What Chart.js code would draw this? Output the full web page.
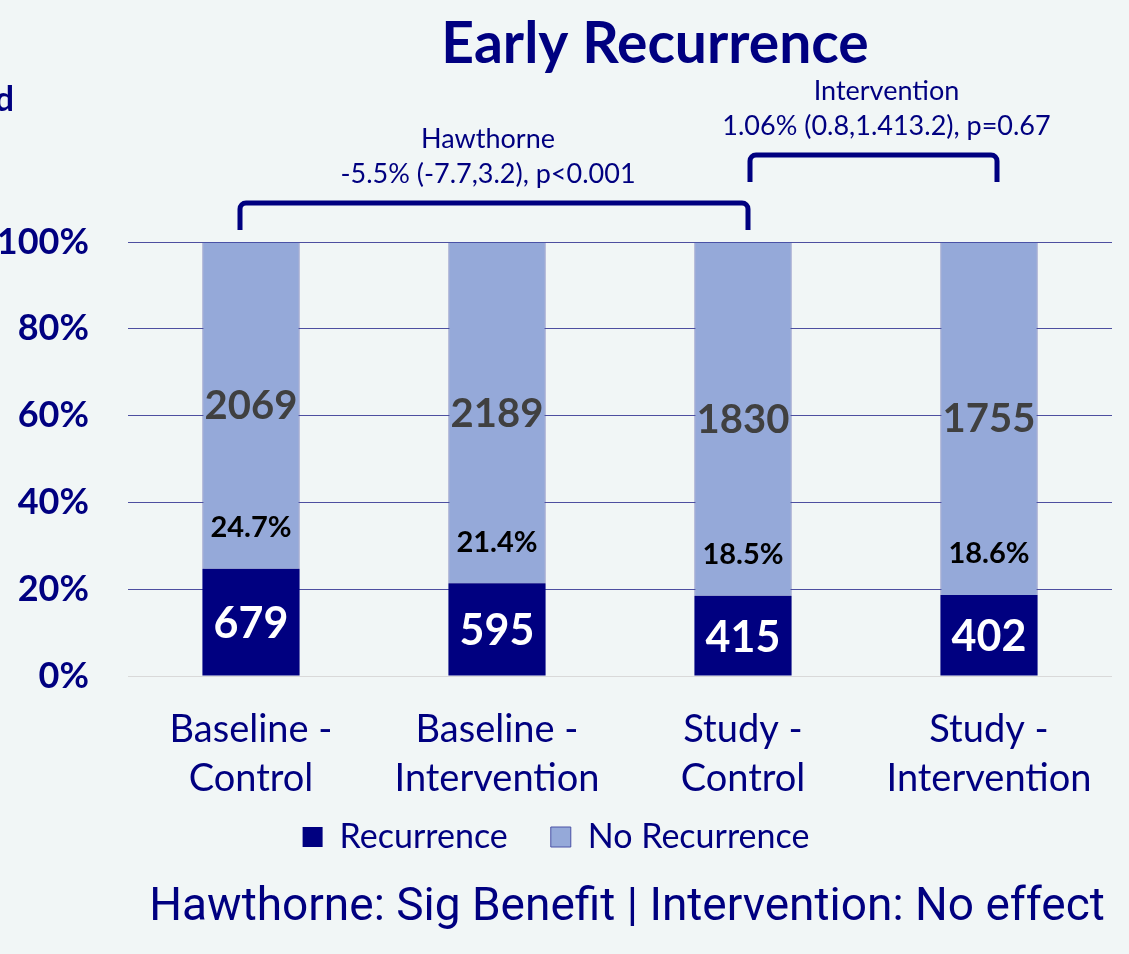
<!DOCTYPE html>
<html>
<head>
<meta charset="utf-8">
<title>Early Recurrence</title>
<script src="https://cdn.jsdelivr.net/npm/chart.js@4.4.0/dist/chart.umd.min.js"></script>
<style>
    html, body { margin: 0; padding: 0; background: #f1f6f6; overflow: hidden; }
    #wrap { width: 1129px; height: 954px; }
</style>
</head>
<body>
<div id="wrap"><canvas id="myChart" width="1129" height="954"></canvas></div>
<script>
    "use strict";

    // data
    const categories = [['Baseline -', 'Control'], ['Baseline -', 'Intervention'], ['Study -', 'Control'], ['Study -', 'Intervention']];
    const recurrence = [679, 595, 415, 402];
    const noRecurrence = [2069, 2189, 1830, 1755];
    const yTicks = [0, 20, 40, 60, 80, 100];
    const comparisons = [
        { from: 0, to: 2, name: 'Hawthorne', stats: '-5.5% (-7.7,3.2), p<0.001' },
        { from: 2, to: 3, name: 'Intervention', stats: '1.06% (0.8,1.413.2), p=0.67' }
    ];
    const chartTitle = 'Early Recurrence';
    const footer = 'Hawthorne: Sig Benefit | Intervention: No effect';

    // 100% stacked -> shares of each group
    const totals = recurrence.map((v, i) => v + noRecurrence[i]);
    const recurrenceShare = recurrence.map((v, i) => v / totals[i] * 100);
    const noRecurrenceShare = noRecurrence.map((v, i) => v / totals[i] * 100);

    const NAVY = '#000080';
    const LIGHT = '#95a9d9';

    // where the brackets sit (offsets from bar centers / chart top)
    const bracketStyle = [
        { dl: -11, dr: 5, rise: 39, textDx: -6 },
        { dl: 7, dr: 8, rise: 87, textDx: 13 }
    ];

    const slidePlugin = {
        id: 'slide',
        beforeDraw(chart) {
            const c = chart.ctx;
            c.save();
            c.fillStyle = '#f1f6f6';
            c.fillRect(0, 0, chart.width, chart.height);
            c.restore();
        },
        afterLayout(chart) {
            // pull the legend up under the two-line category labels
            chart.legend.top -= 29;
            chart.legend.bottom -= 29;
        },
        afterDatasetsDraw(chart) {
            const c = chart.ctx;
            const metaRec = chart.getDatasetMeta(0);
            const metaNo = chart.getDatasetMeta(1);
            c.save();
            c.textAlign = 'center';
            c.textBaseline = 'middle';
            metaRec.data.forEach((bar, i) => {
                c.fillStyle = '#ffffff';
                c.font = 'bold 43px Lato';
                c.fillText(recurrence[i], bar.x, (bar.y + bar.base) / 2 + 2);
                c.fillStyle = '#000000';
                c.font = 'bold 29px Lato';
                c.fillText(recurrenceShare[i].toFixed(1) + '%', bar.x, bar.y - 41);
            });
            metaNo.data.forEach((bar, i) => {
                c.fillStyle = '#404040';
                c.font = 'bold 40px Lato';
                c.fillText(noRecurrence[i], bar.x, (bar.y + bar.base) / 2 + 1);
            });
            c.restore();
        },
        afterDraw(chart) {
            const c = chart.ctx;
            const area = chart.chartArea;
            const x = chart.scales.x;
            c.save();
            c.fillStyle = NAVY;
            c.textBaseline = 'middle';

            // title
            c.textAlign = 'center';
            c.font = 'bold 57px Lato';
            c.fillText(chartTitle, 655, 45);

            // clipped word at the left edge of the slide
            c.textAlign = 'right';
            c.font = 'bold 34px Lato';
            c.fillText('d', 14, 100);

            // comparison brackets
            comparisons.forEach((cmp, k) => {
                const s = bracketStyle[k];
                const xl = x.getPixelForValue(cmp.from) + s.dl;
                const xr = x.getPixelForValue(cmp.to) + s.dr;
                const top = area.top - s.rise;
                const bottom = top + 27;
                const r = 6;
                c.strokeStyle = NAVY;
                c.lineWidth = 5;
                c.beginPath();
                c.moveTo(xl, bottom);
                c.arcTo(xl, top, xl + r, top, r);
                c.arcTo(xr, top, xr, top + r, r);
                c.lineTo(xr, bottom);
                c.stroke();

                const mid = (xl + xr) / 2 + s.textDx;
                c.textAlign = 'center';
                c.font = '27px Lato';
                c.fillText(cmp.name, mid, top - 64);
                c.fillText(cmp.stats, mid, top - 29);
            });

            // take-away line
            c.textAlign = 'center';
            c.font = '46px Roboto';
            c.fillText(footer, 627, 908);
            c.restore();
        }
    };

    let ctx = document.getElementById('myChart').getContext('2d');

    let chart = new Chart(ctx, {
        type: 'bar',
        data: {
            labels: categories,
            datasets: [
                {
                    label: 'Recurrence',
                    backgroundColor: NAVY,
                    borderColor: NAVY,
                    borderWidth: 0,
                    data: recurrenceShare
                },
                {
                    label: 'No Recurrence',
                    backgroundColor: LIGHT,
                    borderColor: '#4a52a6',
                    borderWidth: 1,
                    data: noRecurrenceShare
                }
            ]
        },
        options: {
            responsive: false,
            animation: false,
            devicePixelRatio: 1,
            barPercentage: 0.395,
            categoryPercentage: 1,
            layout: {
                padding: { top: 242, right: 17, bottom: 61, left: 0 }
            },
            plugins: {
                legend: {
                    position: 'bottom',
                    labels: {
                        color: NAVY,
                        font: { family: 'Lato', size: 34 },
                        boxWidth: 20,
                        boxHeight: 20,
                        padding: 43
                    }
                },
                tooltip: { enabled: false }
            },
            scales: {
                x: {
                    stacked: true,
                    grid: { display: false, drawTicks: false },
                    border: { display: false },
                    ticks: {
                        color: NAVY,
                        font: { family: 'Lato', size: 38, lineHeight: 1.29 },
                        padding: 29,
                        maxRotation: 0,
                        autoSkip: false
                    },
                    afterFit(scale) {
                        scale.height = 130;
                        scale.paddingLeft = 0;
                        scale.paddingRight = 0;
                    }
                },
                y: {
                    stacked: true,
                    min: 0,
                    max: 100,
                    grid: {
                        drawTicks: false,
                        lineWidth: 1,
                        color: (c) => c.tick && c.tick.value === 0 ? '#d9d9d9' : '#4d4fa0'
                    },
                    border: { display: false },
                    ticks: {
                        color: NAVY,
                        font: { family: 'Lato', size: 36, weight: 'bold' },
                        padding: 39,
                        callback: (v) => v + '%'
                    },
                    afterBuildTicks(scale) {
                        scale.ticks = yTicks.map((v) => ({ value: v }));
                    },
                    afterFit(scale) {
                        scale.width = 128;
                        scale.paddingTop = 0;
                        scale.paddingBottom = 0;
                    }
                }
            }
        },
        plugins: [slidePlugin]
    });
</script>
</body>
</html>
